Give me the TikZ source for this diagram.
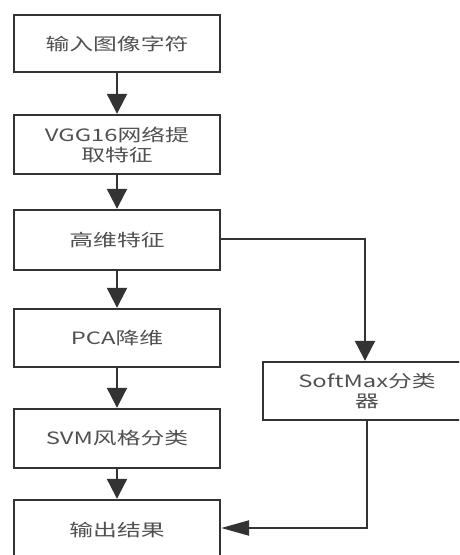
\documentclass[tikz,border=0pt]{standalone}
\usepackage{fontspec}
\newfontfamily\cjk[FakeStretch=1.4]{Noto Sans CJK SC}
\usetikzlibrary{arrows.meta}
\definecolor{lineC}{HTML}{333333}
\definecolor{textC}{HTML}{505050}
\tikzset{
  box/.style={draw=lineC, line width=2.4pt, fill=white, minimum width=206pt,
    minimum height=58pt, inner sep=0pt, align=center, text=textC,
    font=\cjk\fontsize{17}{20}\selectfont},
  conn/.style={draw=lineC, line width=2.2pt},
  arrv/.style={conn, -{Triangle[length=20pt,width=20pt]}},
  arrh/.style={conn, -{Triangle[length=28pt,width=15pt]}}
}
\begin{document}
\begin{tikzpicture}[x=1pt,y=-1pt]
\useasboundingbox (0,0) rectangle (459,555);
\clip (0,0) rectangle (459,555);
\fill[white] (0,0) rectangle (459,555);
\node[box, minimum height=57pt] (b1) at (117,43.5) {输入图像字符};
\node[box, minimum height=59pt] (b2) at (117,144.5) {VGG16网络提\\取特征};
\node[box, minimum height=60pt] (b3) at (117,240) {高维特征};
\node[box] (b4) at (117,338) {PCA降维};
\node[box, minimum height=59pt] (b5) at (117,438.5) {SVM风格分类};
\node[box, minimum height=60pt] (b6) at (117,530) {输出结果};
\node[box, minimum width=208pt] (sm) at (367,391) {SoftMax分类\\器};
\coordinate (c1) at (365,239);
\coordinate (c2) at (367,528);
\draw[arrv] (b1) -- (b2);
\draw[arrv] (b2) -- (b3);
\draw[arrv] (b3) -- (b4);
\draw[arrv] (b4) -- (b5);
\draw[arrv] (b5) -- (b6);
\draw[arrv] (b3.east |- c1) -- (c1) -- (c1 |- sm.north);
\draw[arrh] (sm.south) -- (c2) -- (c2 -| b6.east);
\end{tikzpicture}
\end{document}
